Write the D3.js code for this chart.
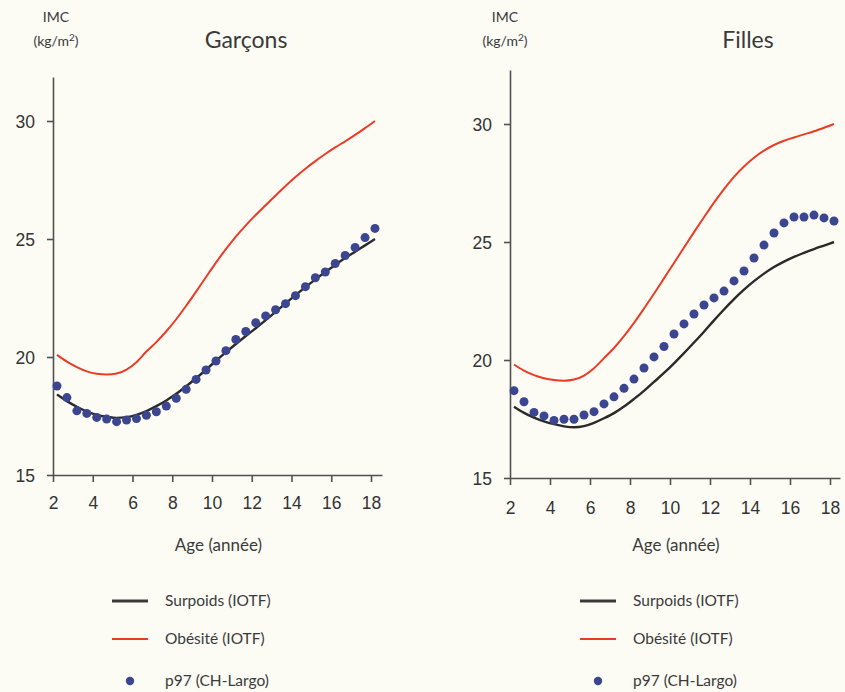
<!DOCTYPE html>
<html>
<head>
<meta charset="utf-8">
<script src="https://cdn.jsdelivr.net/npm/d3@7"></script>
<style>
  body { margin: 0; background: #fcfcf5; }
  svg { display: block; }
  .axis path, .axis line { stroke: #505050; stroke-width: 1.6; }
  .axis text { font-family: 'Liberation Sans', Arial, sans-serif; font-size: 17.5px; fill: #333; }
  .lbl { font-family: Lato, 'Open Sans', sans-serif; fill: #3a3a3a; }
</style>
</head>
<body>
<script>
// ages as placed on the picture (points sit slightly right of the ticks)
var ages = [2.2, 2.7, 3.2, 3.7, 4.2, 4.7, 5.2, 5.7, 6.2, 6.7, 7.2, 7.7, 8.2, 8.7, 9.2, 9.7, 10.2,
  10.7, 11.2, 11.7, 12.2, 12.7, 13.2, 13.7, 14.2, 14.7, 15.2, 15.7, 16.2, 16.7, 17.2, 17.7, 18.2];

var boysOverweight = [18.41, 18.13, 17.89, 17.69, 17.55, 17.47, 17.42, 17.45, 17.55, 17.71, 17.92, 18.16, 18.44,
  18.76, 19.10, 19.46, 19.84, 20.20, 20.55, 20.89, 21.22, 21.56, 21.91, 22.27, 22.62, 22.96, 23.29, 23.60,
  23.90, 24.19, 24.46, 24.73, 25.00];
var boysObese = [20.09, 19.80, 19.57, 19.39, 19.29, 19.26, 19.30, 19.47, 19.78, 20.23, 20.63, 21.09, 21.60,
  22.17, 22.77, 23.39, 24.00, 24.57, 25.10, 25.58, 26.02, 26.43, 26.84, 27.25, 27.63, 27.98, 28.30, 28.60,
  28.88, 29.14, 29.41, 29.70, 30.00];
var boysP97 = [18.77, 18.28, 17.72, 17.61, 17.44, 17.37, 17.26, 17.33, 17.39, 17.53, 17.68, 17.92, 18.25,
  18.63, 19.05, 19.45, 19.83, 20.27, 20.74, 21.08, 21.45, 21.74, 22.00, 22.26, 22.60, 22.98, 23.36, 23.60,
  23.96, 24.30, 24.64, 25.06, 25.45];

var girlsOverweight = [18.02, 17.76, 17.56, 17.40, 17.28, 17.19, 17.15, 17.20, 17.34, 17.53, 17.75, 18.03, 18.35,
  18.69, 19.07, 19.45, 19.86, 20.29, 20.74, 21.20, 21.68, 22.14, 22.58, 22.98, 23.34, 23.66, 23.94, 24.17,
  24.37, 24.54, 24.70, 24.85, 25.00];
var girlsObese = [19.81, 19.55, 19.36, 19.23, 19.15, 19.12, 19.17, 19.34, 19.65, 20.08, 20.51, 21.01, 21.57,
  22.18, 22.81, 23.46, 24.11, 24.77, 25.42, 26.05, 26.67, 27.24, 27.76, 28.20, 28.57, 28.87, 29.11, 29.29,
  29.43, 29.56, 29.69, 29.84, 30.00];
var girlsP97 = [18.70, 18.23, 17.78, 17.63, 17.44, 17.49, 17.49, 17.67, 17.81, 18.14, 18.44, 18.80, 19.19,
  19.66, 20.13, 20.57, 21.10, 21.53, 21.95, 22.33, 22.63, 22.92, 23.35, 23.77, 24.32, 24.87, 25.38, 25.81,
  26.06, 26.06, 26.14, 26.02, 25.89];

var xTicks = [2, 4, 6, 8, 10, 12, 14, 16, 18];
var yTicks = [15, 20, 25, 30];
var legendLabels = ['Surpoids (IOTF)', 'Obésité (IOTF)', 'p97 (CH-Largo)'];

var BLACK = '#2a2a2a', RED = '#ea3b26', BLUE = '#3c4590';

var svg = d3.select('body').append('svg').attr('width', 845).attr('height', 692);

var panels = [
  {title: 'Garçons', over: boysOverweight, obese: boysObese, p97: boysP97,
    x0: 53, x1: 371, xEnd: 382, y15: 475, y30: 121, yTop: 77, titleX: 246, titleFill: '#222',
    labelX: 56, legX: 112, tickDy: 0},
  {title: 'Filles', over: girlsOverweight, obese: girlsObese, p97: girlsP97,
    x0: 510, x1: 830, xEnd: 840, y15: 478, y30: 124, yTop: 70, titleX: 748, titleFill: '#4a4a4a',
    labelX: 505, legX: 580, tickDy: 2}
];

panels.forEach(function(p) {
  var xs = d3.scaleLinear().domain([2, 18]).range([p.x0, p.x1]);
  var ys = d3.scaleLinear().domain([15, 30]).range([p.y15, p.y30]);
  xs.domain([2, xs.invert(p.xEnd)]).range([p.x0, p.xEnd]);
  ys.domain([15, ys.invert(p.yTop)]).range([p.y15, p.yTop]);

  var g = svg.append('g');

  g.append('g').attr('class', 'axis')
    .attr('transform', 'translate(' + p.x0 + ',0)')
    .call(d3.axisLeft(ys).tickValues(yTicks).tickSize(6).tickSizeOuter(0).tickPadding(12))
    .selectAll('text').attr('dy', '0.36em');

  g.append('g').attr('class', 'axis')
    .attr('transform', 'translate(0,' + p.y15 + ')')
    .call(d3.axisBottom(xs).tickValues(xTicks).tickSize(7).tickSizeOuter(0).tickPadding(15 + p.tickDy));

  var line = d3.line()
    .x(function(d, i) { return xs(ages[i]); })
    .y(function(d) { return ys(d); })
    .curve(d3.curveMonotoneX);

  g.append('path').datum(p.obese)
    .attr('d', line).attr('fill', 'none').attr('stroke', RED).attr('stroke-width', 2);
  g.append('path').datum(p.over)
    .attr('d', line).attr('fill', 'none').attr('stroke', BLACK).attr('stroke-width', 2.4);

  g.selectAll('.dot').data(p.p97).enter().append('circle')
    .attr('class', 'dot')
    .attr('cx', function(d, i) { return xs(ages[i]); })
    .attr('cy', function(d) { return ys(d); })
    .attr('r', 4.5)
    .attr('fill', BLUE);

  // labels
  g.append('text').attr('class', 'lbl').attr('x', p.labelX).attr('y', 22)
    .attr('text-anchor', 'middle').attr('font-size', 14).attr('fill', '#555').text('IMC');
  var unit = g.append('text').attr('class', 'lbl').attr('x', p.labelX).attr('y', 46)
    .attr('text-anchor', 'middle').attr('font-size', 14).attr('fill', '#555');
  unit.append('tspan').text('(kg/m');
  unit.append('tspan').attr('font-size', 10).attr('dy', -5).text('2');
  unit.append('tspan').attr('dy', 5).text(')');

  g.append('text').attr('class', 'lbl').attr('x', p.titleX).attr('y', 48)
    .attr('text-anchor', 'middle').attr('font-size', 23).attr('fill', p.titleFill).text(p.title);

  g.append('text').attr('class', 'lbl').attr('x', (p.x0 + p.xEnd) / 2 + 1).attr('y', 551)
    .attr('text-anchor', 'middle').attr('font-size', 17).text('Age (année)');

  // legend
  var rows = [601, 639, 681];
  var leg = g.selectAll('.leg').data(legendLabels).enter().append('g')
    .attr('transform', function(d, i) { return 'translate(' + p.legX + ',' + rows[i] + ')'; });
  leg.append('text').attr('class', 'lbl').attr('x', 53).attr('dy', '0.35em')
    .attr('font-size', 15.5).text(function(d) { return d; });
  leg.filter(function(d, i) { return i < 2; }).append('line')
    .attr('x1', 0).attr('x2', 36)
    .attr('stroke', function(d, i) { return i === 0 ? '#3a3a3a' : RED; })
    .attr('stroke-width', function(d, i) { return i === 0 ? 3 : 2; });
  leg.filter(function(d, i) { return i === 2; }).append('circle')
    .attr('cx', 18).attr('r', 4.2).attr('fill', BLUE);
});
</script>
</body>
</html>
